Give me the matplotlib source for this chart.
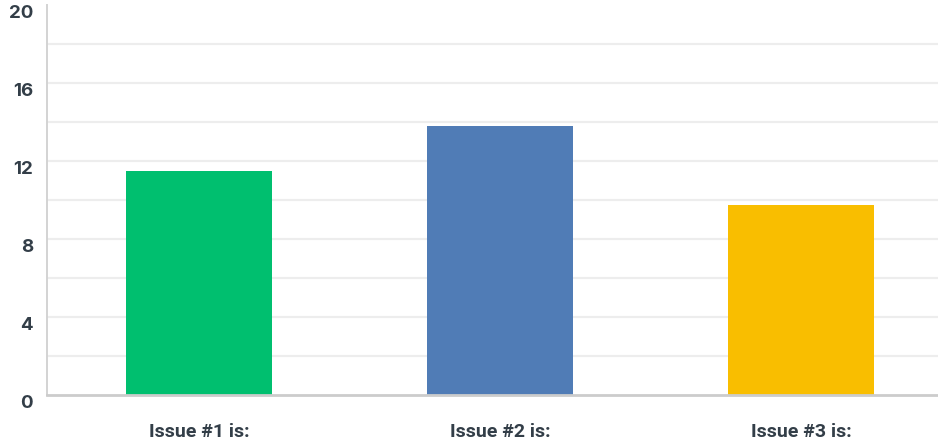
import matplotlib
matplotlib.use("Agg")
import matplotlib.pyplot as plt
from matplotlib.transforms import offset_copy

categories = ["Issue #1 is:", "Issue #2 is:", "Issue #3 is:"]
values = [11.5, 13.8, 9.75]
colors = ["#00BF6F", "#507CB6", "#F9BE00"]
yticks = [0, 4, 8, 12, 16, 20]
grid_vals = [2, 4, 6, 8, 10, 12, 14, 16, 18]

fig = plt.figure(figsize=(9.38, 4.43), dpi=100)
ax = fig.add_axes([47/938, 48/443, 891/938, 390/443])

x = list(range(len(categories)))
ax.bar(x, values, width=0.485, color=colors, zorder=3)

ax.set_xlim(-0.505, 2.455)
ax.set_ylim(0, 20)

for g in grid_vals:
    ax.axhline(g, color="#EDEDED", lw=1.6, zorder=1)

for s in ["top", "right"]:
    ax.spines[s].set_visible(False)
ax.spines["left"].set_color("#D3D3D3")
ax.spines["left"].set_linewidth(1.4)
ax.spines["bottom"].set_color("#CCCCCC")
ax.spines["bottom"].set_linewidth(2)
ax.spines["bottom"].set_zorder(4)

ax.set_yticks(yticks)
ax.set_yticklabels([])
ax.tick_params(axis="y", length=0)
trans = offset_copy(ax.get_yaxis_transform(), fig=fig, x=-14, y=-9, units="dots")
for t in yticks:
    ax.text(0, t, str(t), transform=trans, ha="right", va="center",
            fontsize=13.5, fontweight="bold", color="#333E48", family="Inter")

ax.set_xticks(x)
ax.set_xticklabels(categories, fontsize=14, fontweight="bold", color="#333E48",
                   family="Roboto")
ax.tick_params(axis="x", length=0, pad=20)

fig.savefig("out.png", dpi=100)
